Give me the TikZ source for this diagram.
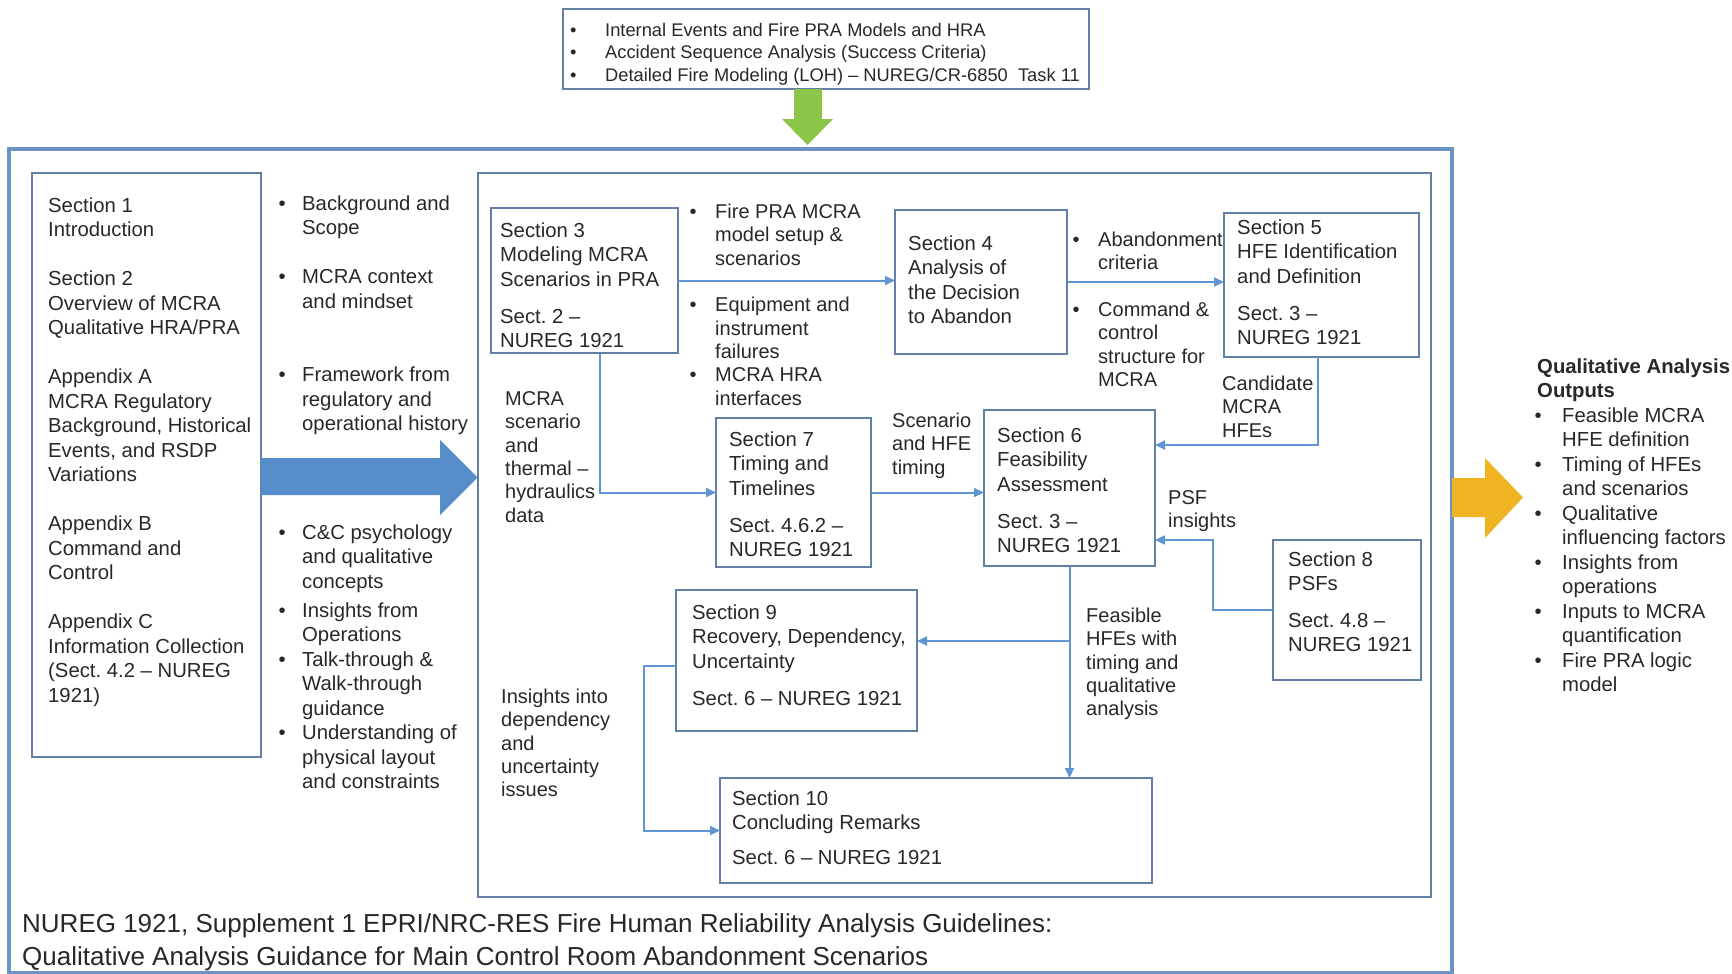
\documentclass[tikz,border=0pt]{standalone}
\usepackage{fontspec}
\setmainfont{Liberation Sans}
\usetikzlibrary{arrows.meta}
\frenchspacing
\definecolor{framec}{RGB}{108,147,197}
\definecolor{boxc}{RGB}{98,127,165}
\definecolor{flowc}{RGB}{95,150,210}
\definecolor{bigc}{RGB}{88,141,203}
\definecolor{greenc}{RGB}{141,197,72}
\definecolor{goldc}{RGB}{240,180,35}
\definecolor{txtc}{RGB}{40,40,40}
\newcommand\mybul[1]{\makebox[#1][l]{•}}
\newcommand\myind[1]{\hspace*{#1}}
\begin{document}
\frenchspacing
\begin{tikzpicture}[x=1pt,y=-1pt,
  boxn/.style={draw=boxc, line width=1.3pt, anchor=north west, inner sep=0pt, outer sep=0pt},
  txt/.style={anchor=north west, inner sep=0pt, align=left, text=txtc, font=\frenchspacing\fontsize{20.3}{24.5}\selectfont},
  txtb/.style={txt, font=\frenchspacing\fontsize{20}{23.3}\selectfont},
  flow/.style={draw=flowc, line width=2pt, -{Triangle[length=10pt,width=9pt]}}]
\useasboundingbox (0,0) rectangle (1732,974);
\fill[white] (0,0) rectangle (1732,974);

% outer frame
\node[draw=framec, line width=3.5pt, anchor=north west, inner sep=0pt, outer sep=0pt,
      minimum width=1443pt, minimum height=824pt] (outer) at (9,149) {};
% top input box
\node[boxn, minimum width=526pt, minimum height=80pt] (topbox) at (563,9) {};
\node[txt, font=\frenchspacing\fontsize{18.3}{22.2}\selectfont] (toptxt) at (570,21)
  {\strut\mybul{35pt}Internal Events and Fire PRA Models and HRA\\
   \mybul{35pt}Accident Sequence Analysis (Success Criteria)\\
   \mybul{35pt}Detailed Fire Modeling (LOH) – NUREG/CR-6850\ \ Task 11};
% green arrow
\fill[greenc] (794,89) -- (822,89) -- (822,119) -- (833,119) -- (807.5,145)
  -- (782,119) -- (794,119) -- cycle;

% left box
\node[boxn, minimum width=229pt, minimum height=584pt] (leftbox) at (32,173) {};
\node[txt] (lefttxt) at (48,195)
  {\strut Section 1\\Introduction\\[24.5pt]
   Section 2\\Overview of MCRA\\Qualitative HRA/PRA\\[24.5pt]
   Appendix A\\MCRA Regulatory\\Background, Historical\\Events, and RSDP\\Variations\\[24.5pt]
   Appendix B\\Command and\\Control\\[24.5pt]
   Appendix C\\Information Collection\\(Sect. 4.2 – NUREG\\1921)};
% middle bullets
\node[txt] (midup) at (278.5,193)
  {\strut\mybul{23.5pt}Background and\\\myind{23.5pt}Scope\\[24.5pt]
   \mybul{23.5pt}MCRA context\\\myind{23.5pt}and mindset\\[49pt]
   \mybul{23.5pt}Framework from\\\myind{23.5pt}regulatory and\\\myind{23.5pt}operational history};
\node[txt] (midlow) at (278.5,522)
  {\strut\mybul{23.5pt}C\&C psychology\\\myind{23.5pt}and qualitative\\\myind{23.5pt}concepts\\[4.5pt]
   \mybul{23.5pt}Insights from\\\myind{23.5pt}Operations\\
   \mybul{23.5pt}Talk-through \&\\\myind{23.5pt}Walk-through\\\myind{23.5pt}guidance\\
   \mybul{23.5pt}Understanding of\\\myind{23.5pt}physical layout\\\myind{23.5pt}and constraints};
% big blue arrow
\fill[bigc] (261,458) -- (440,458) -- (440,440) -- (477.5,477.5) -- (440,515)
  -- (440,495) -- (261,495) -- cycle;

% inner box
\node[boxn, minimum width=953pt, minimum height=724pt] (inner) at (478,173) {};

% flow boxes
\node[boxn, minimum width=187pt, minimum height=145pt] (s3) at (491,208) {};
\node[boxn, minimum width=172pt, minimum height=144pt] (s4) at (895,210) {};
\node[boxn, minimum width=195pt, minimum height=144pt] (s5) at (1224,213) {};
\node[boxn, minimum width=171pt, minimum height=156pt] (s6) at (984,410) {};
\node[boxn, minimum width=155pt, minimum height=149pt] (s7) at (716,418) {};
\node[boxn, minimum width=148pt, minimum height=140pt] (s8) at (1273,540) {};
\node[boxn, minimum width=241pt, minimum height=141pt] (s9) at (676,590) {};
\node[boxn, minimum width=432pt, minimum height=105pt] (s10) at (720,778) {};

% box texts
\node[txt] (s3t) at (500,220)
  {\strut Section 3\\Modeling MCRA\\Scenarios in PRA\\[12.5pt]Sect. 2 –\\NUREG 1921};
\node[txt] (s4t) at (908,233)
  {\strut Section 4\\Analysis of\\the Decision\\to Abandon};
\node[txt] (s5t) at (1237,217)
  {\strut Section 5\\HFE Identification\\and Definition\\[12.5pt]Sect. 3 –\\NUREG 1921};
\node[txt] (s6t) at (997,425)
  {\strut Section 6\\Feasibility\\Assessment\\[12.5pt]Sect. 3 –\\NUREG 1921};
\node[txt] (s7t) at (729,429)
  {\strut Section 7\\Timing and\\Timelines\\[12.5pt]Sect. 4.6.2 –\\NUREG 1921};
\node[txt] (s8t) at (1288,549)
  {\strut Section 8\\PSFs\\[12pt]Sect. 4.8 –\\NUREG 1921};
\node[txt] (s9t) at (692,602)
  {\strut Section 9\\Recovery, Dependency,\\Uncertainty\\[12.5pt]Sect. 6 – NUREG 1921};
\node[txt] (s10t) at (732,788)
  {\strut Section 10\\Concluding Remarks\\[10pt]Sect. 6 – NUREG 1921};

% labels
\node[txtb] (lab34) at (689.5,202)
  {\strut\mybul{25.5pt}Fire PRA MCRA\\\myind{25.5pt}model setup \&\\\myind{25.5pt}scenarios\\[23.5pt]
   \mybul{25.5pt}Equipment and\\\myind{25.5pt}instrument\\\myind{25.5pt}failures\\
   \mybul{25.5pt}MCRA HRA\\\myind{25.5pt}interfaces};
\node[txtb] (lab45) at (1072.5,230)
  {\strut\mybul{25.5pt}Abandonment\\\myind{25.5pt}criteria\\[23.5pt]
   \mybul{25.5pt}Command \&\\\myind{25.5pt}control\\\myind{25.5pt}structure for\\\myind{25.5pt}MCRA};
\node[txtb] (lab56) at (1222,374) {\strut Candidate\\MCRA\\HFEs};
\node[txtb] (lab86) at (1168,488) {\strut PSF\\insights};
\node[txtb] (lab76) at (892,411) {\strut Scenario\\and HFE\\timing};
\node[txtb] (lab37) at (505,389) {\strut MCRA\\scenario\\and\\thermal –\\hydraulics\\data};
\node[txtb] (lab610) at (1086,606) {\strut Feasible\\HFEs with\\timing and\\qualitative\\analysis};
\node[txtb] (lab910) at (501,687) {\strut Insights into\\dependency\\and\\uncertainty\\issues};

% connectors
\draw[flow] (s3.east) -- (s4.west |- s3.east);
\draw[flow] (s4.east) -- (s5.west |- s4.east);
\draw[flow] ([xshift=15.5pt]s3.south) |- (s7.west);
\draw[flow] (s7.east) -- (s6.west |- s7.east);
\coordinate (s6in1) at ([yshift=43pt]s6.east);
\draw[flow] ([xshift=-3.5pt]s5.south) |- (s6in1);
\coordinate (s6in2) at ([yshift=-52pt]s6.east);
\draw[flow] (s8.west) -- ++(-60,0) |- (s6in2);
\draw[flow] (s6.south) -- (s6.south |- s10.north);
\coordinate (s9in) at ([yshift=19.5pt]s9.east);
\draw[flow] (s9in -| s6.south) -- (s9in);
\draw[flow] ([yshift=-5.5pt]s9.west) -- ++(-32,0) |- (s10.west);

% title
\node[txt, font=\frenchspacing\fontsize{26}{33}\selectfont] (title) at (22,909)
  {\strut NUREG 1921, Supplement 1 EPRI/NRC-RES Fire Human Reliability Analysis Guidelines:\\
   Qualitative Analysis Guidance for Main Control Room Abandonment Scenarios};

% yellow arrow
\fill[goldc] (1452,478) -- (1485,478) -- (1485,458) -- (1523,497.5) -- (1485,538)
  -- (1485,517) -- (1452,517) -- cycle;
% outputs
\node[txt] (outputs) at (1534.5,356)
  {\strut\myind{2.5pt}\textbf{Qualitative Analysis}\\
   \myind{2.5pt}\textbf{Outputs}\\
   \mybul{27.5pt}Feasible MCRA\\\myind{27.5pt}HFE definition\\
   \mybul{27.5pt}Timing of HFEs\\\myind{27.5pt}and scenarios\\
   \mybul{27.5pt}Qualitative\\\myind{27.5pt}influencing factors\\
   \mybul{27.5pt}Insights from\\\myind{27.5pt}operations\\
   \mybul{27.5pt}Inputs to MCRA\\\myind{27.5pt}quantification\\
   \mybul{27.5pt}Fire PRA logic\\\myind{27.5pt}model};
\end{tikzpicture}
\end{document}
